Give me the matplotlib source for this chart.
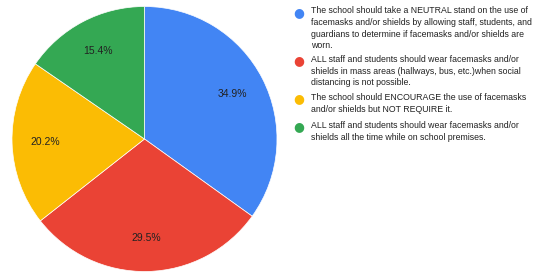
import matplotlib
matplotlib.use("Agg")
import matplotlib.pyplot as plt

labels = [
    "The school should take a NEUTRAL stand on the use of\nfacemasks and/or shields by allowing staff, students, and\nguardians to determine if facemasks and/or shields are\nworn.",
    "ALL staff and students should wear facemasks and/or\nshields in mass areas (hallways, bus, etc.)when social\ndistancing is not possible.",
    "The school should ENCOURAGE the use of facemasks\nand/or shields but NOT REQUIRE it.",
    "ALL staff and students should wear facemasks and/or\nshields all the time while on school premises.",
]
values = [34.9, 29.5, 20.2, 15.4]
colors = ["#4285F4", "#EA4335", "#FBBC04", "#34A853"]

plt.rcParams['font.family'] = ['Liberation Sans', 'DejaVu Sans']
W, H = 539, 272
fig = plt.figure(figsize=(W/100, H/100), dpi=100)

cx, cy, r = 144.5, 139, 132.5
ax = fig.add_axes([(cx - r)/W, (H - cy - r)/H, 2*r/W, 2*r/H])
wedges, texts, autotexts = ax.pie(
    values, colors=colors, startangle=90, counterclock=False,
    autopct=lambda p: f"{p:.1f}%", pctdistance=0.75,
    wedgeprops=dict(edgecolor="white", linewidth=0.5),
    textprops=dict(fontsize=7.5, color="#222222"))
ax.set_aspect('equal')
ax.set_xlim(-1, 1)
ax.set_ylim(-1, 1)
ax.axis('off')

# legend
ys = [12.3, 61, 99, 127]
for y, lab, c in zip(ys, labels, colors):
    fig.text(299/W, 1 - y/H, "●", color=c, fontsize=9, ha='center', va='center',
             family=['DejaVu Sans'])
    fig.text(311/W, 1 - (y - 6)/H, lab, fontsize=6.3, color="#222222",
             ha='left', va='top', linespacing=1.38)

fig.savefig("out.png", dpi=100)
